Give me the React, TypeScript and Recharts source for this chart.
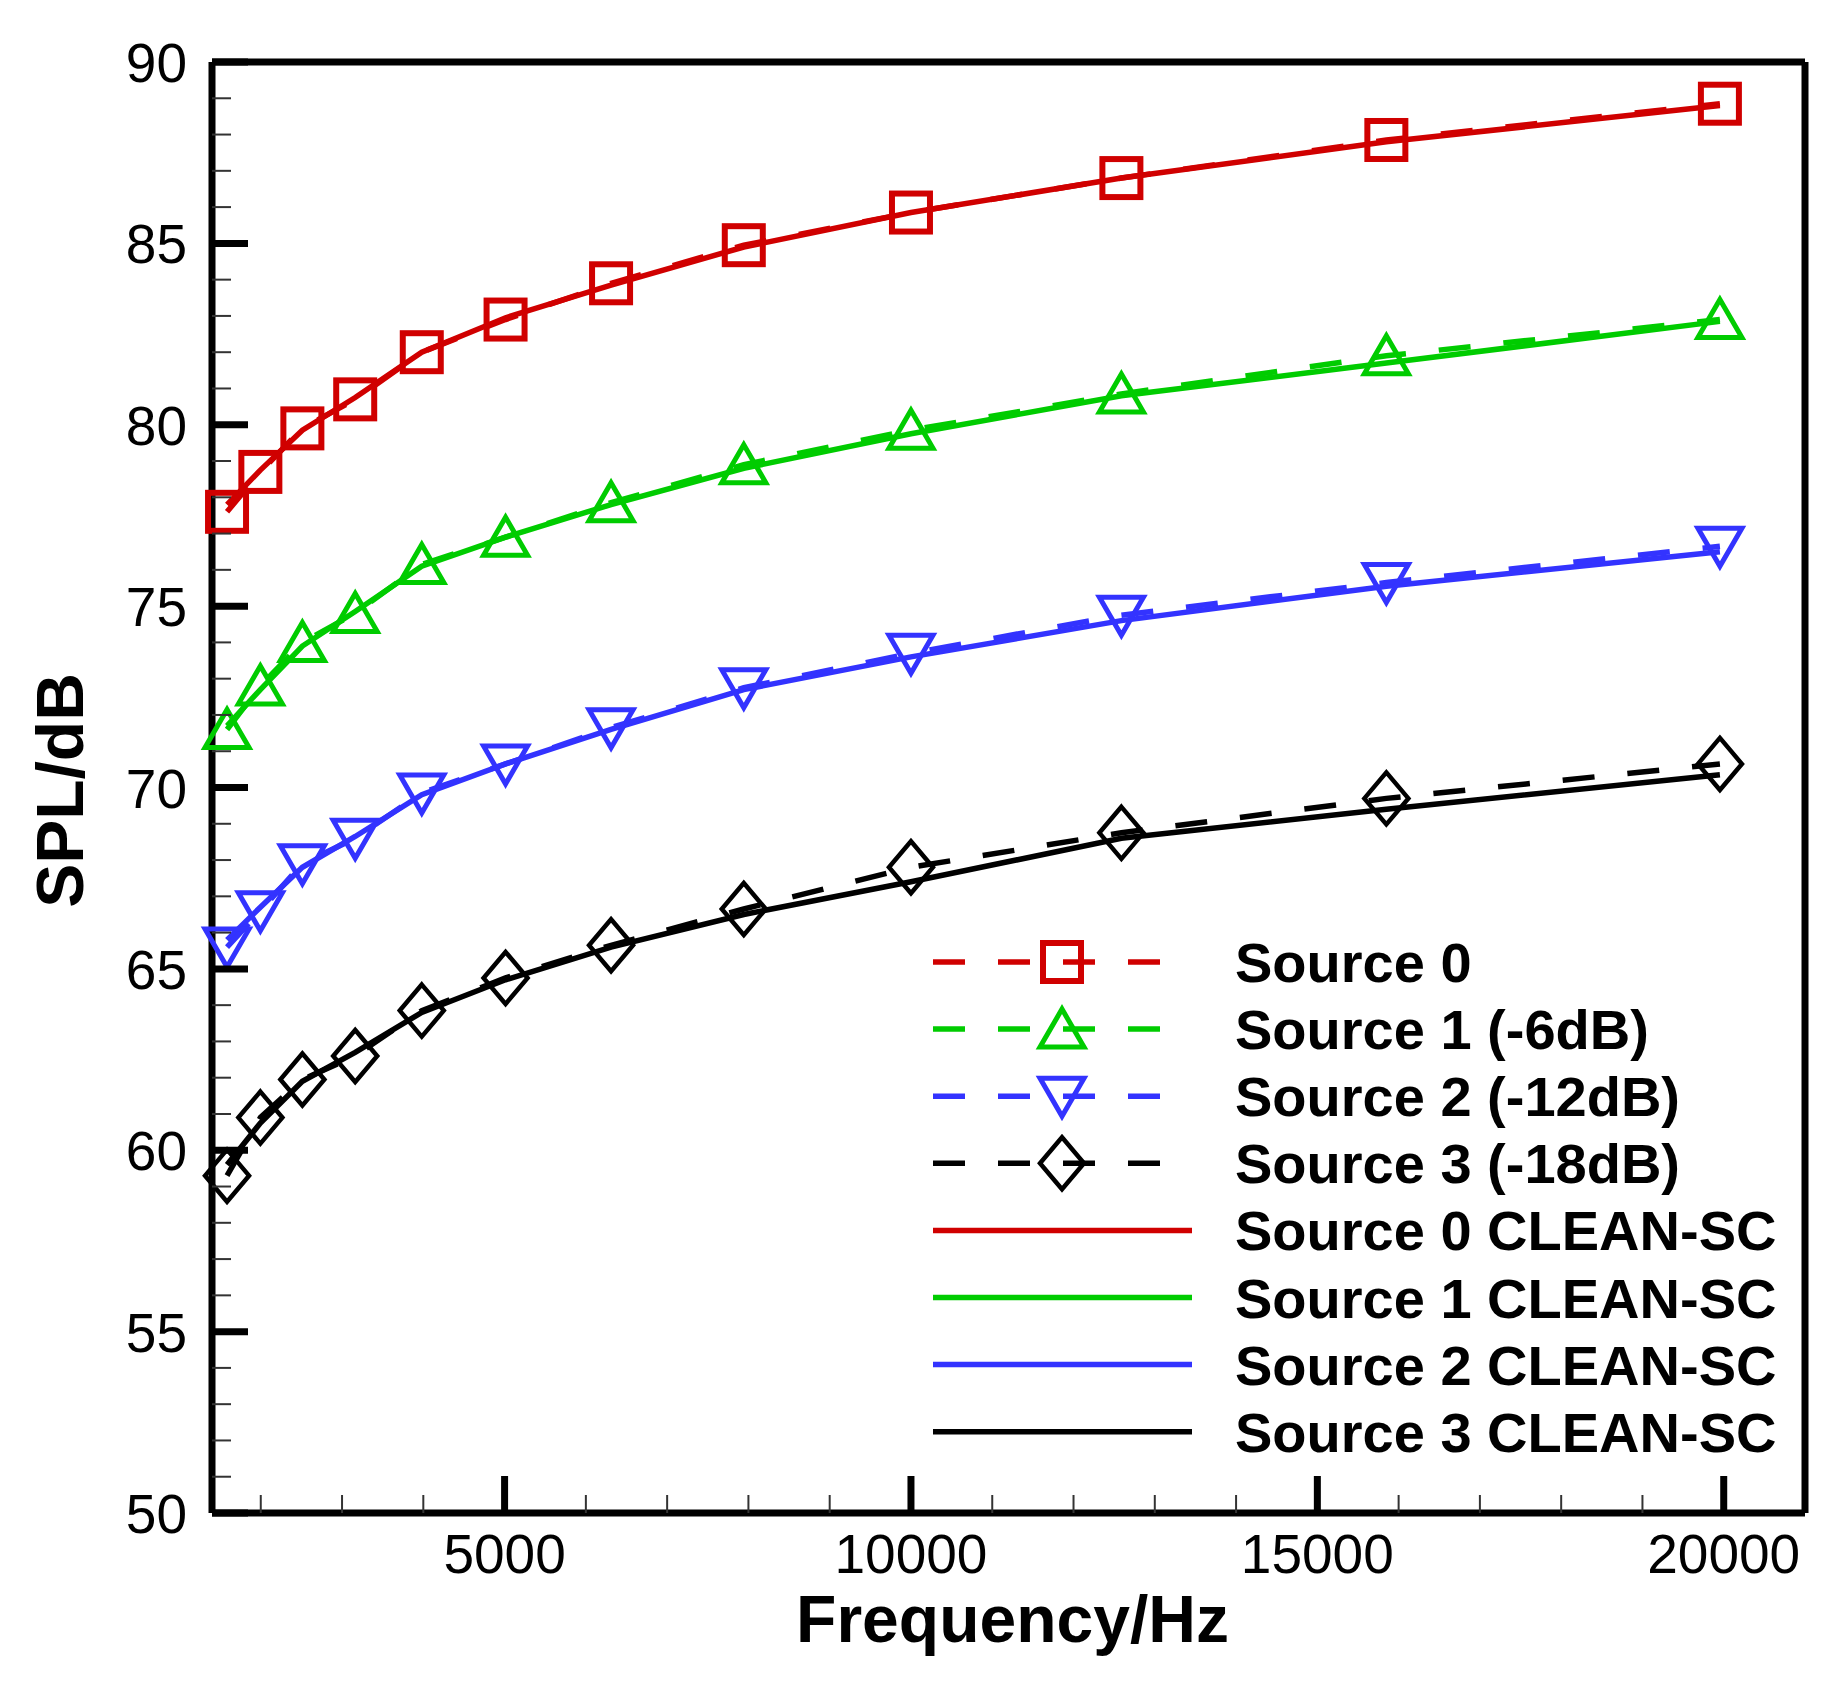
import React from "react";
import { LineChart, Line, XAxis, YAxis, Legend, Label, ReferenceLine } from "recharts";

// third-octave band centres (Hz)
const FREQ = [1585, 1995, 2512, 3162, 3981, 5012, 6310, 7943, 10000, 12589, 15849, 19953];

// reference sources (dashed + symbols)
const SRC0 = [77.6, 78.7, 79.9, 80.7, 82.0, 82.9, 83.9, 84.95, 85.85, 86.8, 87.85, 88.85];
const SRC1 = [71.6, 72.8, 74.0, 74.8, 76.15, 76.9, 77.85, 78.9, 79.85, 80.85, 81.9, 82.9];
const SRC2 = [65.6, 66.6, 67.9, 68.6, 69.85, 70.65, 71.65, 72.75, 73.7, 74.75, 75.65, 76.65];
const SRC3 = [59.3, 60.9, 61.95, 62.6, 63.85, 64.75, 65.65, 66.65, 67.8, 68.75, 69.7, 70.65];

// CLEAN-SC results (solid)
const CLEAN0 = [77.8, 78.75, 79.85, 80.75, 82.0, 82.95, 83.85, 84.9, 85.85, 86.8, 87.8, 88.8];
const CLEAN1 = [71.7, 72.7, 73.9, 74.85, 76.1, 76.9, 77.8, 78.8, 79.75, 80.8, 81.7, 82.85];
const CLEAN2 = [65.8, 66.7, 67.8, 68.65, 69.8, 70.65, 71.6, 72.7, 73.6, 74.6, 75.55, 76.5];
const CLEAN3 = [59.6, 60.75, 61.9, 62.7, 63.8, 64.7, 65.6, 66.5, 67.4, 68.6, 69.4, 70.35];

const X_DOMAIN = [1400, 21000];
const Y_DOMAIN = [50, 90];
const X_TICKS = [2000, 3000, 4000, 5000, 6000, 7000, 8000, 9000, 10000, 11000, 12000, 13000, 14000, 15000, 16000, 17000, 18000, 19000, 20000];
const Y_TICKS = Array.from({ length: 41 }, (_, i) => 50 + i);

const RED = "#D00000";
const GREEN = "#00CC00";
const BLUE = "#3333FF";
const BLACK = "#000000";

const FONT = "'Liberation Sans', Arial, Helvetica, sans-serif";
const DASH = "32 33";
const LINE_W = 5.5;

type Shape = "square" | "triangle" | "invtriangle" | "diamond";

const DASHED = [
  { key: "s0", name: "Source 0", color: RED, shape: "square" as Shape },
  { key: "s1", name: "Source 1 (-6dB)", color: GREEN, shape: "triangle" as Shape },
  { key: "s2", name: "Source 2 (-12dB)", color: BLUE, shape: "invtriangle" as Shape },
  { key: "s3", name: "Source 3 (-18dB)", color: BLACK, shape: "diamond" as Shape },
];
const SOLID = [
  { key: "c0", name: "Source 0 CLEAN-SC", color: RED },
  { key: "c1", name: "Source 1 CLEAN-SC", color: GREEN },
  { key: "c2", name: "Source 2 CLEAN-SC", color: BLUE },
  { key: "c3", name: "Source 3 CLEAN-SC", color: BLACK },
];

const data = FREQ.map((f, i) => ({
  f,
  s0: SRC0[i],
  s1: SRC1[i],
  s2: SRC2[i],
  s3: SRC3[i],
  c0: CLEAN0[i],
  c1: CLEAN1[i],
  c2: CLEAN2[i],
  c3: CLEAN3[i],
}));

function Marker({ cx, cy, shape, color }: { cx: number; cy: number; shape: Shape; color: string }) {
  if (shape === "square") {
    return <rect x={cx - 19} y={cy - 19} width={38} height={38} fill="none" stroke={color} strokeWidth={6} />;
  }
  if (shape === "triangle") {
    const pts = `${cx},${cy - 20} ${cx + 22},${cy + 18} ${cx - 22},${cy + 18}`;
    return <polygon points={pts} fill="none" stroke={color} strokeWidth={5} strokeLinejoin="miter" />;
  }
  if (shape === "invtriangle") {
    const pts = `${cx - 22},${cy - 18} ${cx + 22},${cy - 18} ${cx},${cy + 20}`;
    return <polygon points={pts} fill="none" stroke={color} strokeWidth={5} strokeLinejoin="miter" />;
  }
  const pts = `${cx},${cy - 26} ${cx + 22},${cy} ${cx},${cy + 26} ${cx - 22},${cy}`;
  return <polygon points={pts} fill="none" stroke={color} strokeWidth={4.5} />;
}

function XTick(props: any) {
  const { x, y, payload } = props;
  const major = payload.value % 5000 === 0;
  return (
    <g>
      <line
        x1={x}
        x2={x}
        y1={y}
        y2={y - (major ? 37 : 18)}
        stroke={major ? "#000" : "#333"}
        strokeWidth={major ? 7 : 2}
      />
      {major && (
        <text x={x} y={y + 60} textAnchor="middle" fontSize={55} fontFamily={FONT} fill="#000">
          {payload.value}
        </text>
      )}
    </g>
  );
}

function YTick(props: any) {
  const { x, y, payload } = props;
  const major = payload.value % 5 === 0;
  return (
    <g>
      <line
        x1={x}
        x2={x + (major ? 36 : 19)}
        y1={y}
        y2={y}
        stroke={major ? "#000" : "#333"}
        strokeWidth={major ? 7 : 2}
      />
      {major && (
        <text x={x - 25} y={y + 20} textAnchor="end" fontSize={55} fontFamily={FONT} fill="#000">
          {payload.value}
        </text>
      )}
    </g>
  );
}

// legend box, local coordinates (box placed at 920,920 in the chart)
const LEG_LEFT = 920;
const LEG_TOP = 920;

function renderLegend() {
  const rowY = (i: number) => 42 + i * 67.1;
  return (
    <svg width={900} height={560} style={{ overflow: "visible" }}>
      {DASHED.map((s, i) => (
        <g key={s.key}>
          <line x1={13} x2={242} y1={rowY(i)} y2={rowY(i)} stroke={s.color} strokeWidth={LINE_W} strokeDasharray={DASH} />
          <Marker cx={142} cy={rowY(i)} shape={s.shape} color={s.color} />
          <text x={315} y={rowY(i) + 20} fontSize={56} fontWeight="bold" fontFamily={FONT} fill="#000">
            {s.name}
          </text>
        </g>
      ))}
      {SOLID.map((s, j) => {
        const i = j + DASHED.length;
        return (
          <g key={s.key}>
            <line x1={13} x2={272} y1={rowY(i)} y2={rowY(i)} stroke={s.color} strokeWidth={LINE_W} />
            <text x={315} y={rowY(i) + 20} fontSize={56} fontWeight="bold" fontFamily={FONT} fill="#000">
              {s.name}
            </text>
          </g>
        );
      })}
    </svg>
  );
}

export default function App() {
  return (
    <div style={{ position: "absolute", left: 0, top: 0, width: 1848, height: 1683, background: "#fff" }}>
      <LineChart width={1848} height={1683} data={data} margin={{ top: 62, right: 43, bottom: 70, left: 112 }}>
        <XAxis
          dataKey="f"
          type="number"
          domain={X_DOMAIN}
          ticks={X_TICKS}
          interval={0}
          height={100}
          tickSize={0}
          tickMargin={0}
          tickLine={false}
          tick={<XTick />}
          axisLine={{ stroke: "#000", strokeWidth: 7 }}
        >
          <Label
            content={(p: any) => {
              const vb = p.viewBox;
              return (
                <text
                  x={vb.x + vb.width / 2 + 4}
                  y={vb.y + 129}
                  textAnchor="middle"
                  fontSize={66}
                  fontWeight="bold"
                  fontFamily={FONT}
                  fill="#000"
                >
                  Frequency/Hz
                </text>
              );
            }}
          />
        </XAxis>
        <YAxis
          type="number"
          domain={Y_DOMAIN}
          ticks={Y_TICKS}
          interval={0}
          width={100}
          tickSize={0}
          tickMargin={0}
          tickLine={false}
          tick={<YTick />}
          axisLine={{ stroke: "#000", strokeWidth: 7 }}
        >
          <Label
            content={(p: any) => {
              const vb = p.viewBox;
              const tx = vb.x - 29;
              const ty = vb.y + vb.height / 2 + 3;
              return (
                <text
                  x={tx}
                  y={ty}
                  transform={`rotate(-90, ${tx}, ${ty})`}
                  textAnchor="middle"
                  fontSize={66}
                  fontWeight="bold"
                  fontFamily={FONT}
                  fill="#000"
                >
                  SPL/dB
                </text>
              );
            }}
          />
        </YAxis>
        {/* top and right frame */}
        <ReferenceLine y={Y_DOMAIN[1]} stroke="#000" strokeWidth={7} ifOverflow="visible" />
        <ReferenceLine x={X_DOMAIN[1]} stroke="#000" strokeWidth={7} ifOverflow="visible" />
        {SOLID.map((s) => (
          <Line
            key={s.key}
            dataKey={s.key}
            name={s.name}
            type="linear"
            stroke={s.color}
            strokeWidth={LINE_W}
            dot={false}
            activeDot={false}
            isAnimationActive={false}
          />
        ))}
        {DASHED.map((s) => (
          <Line
            key={s.key}
            dataKey={s.key}
            name={s.name}
            type="linear"
            stroke={s.color}
            strokeWidth={LINE_W}
            strokeDasharray={DASH}
            activeDot={false}
            isAnimationActive={false}
            dot={(p: any) => <Marker key={`${s.key}-${p.index}`} cx={p.cx} cy={p.cy} shape={s.shape} color={s.color} />}
          />
        ))}
        <Legend
          layout="vertical"
          align="center"
          verticalAlign="middle"
          content={renderLegend}
          wrapperStyle={{ position: "absolute", left: LEG_LEFT, top: LEG_TOP, width: 900, height: 560 }}
        />
      </LineChart>
    </div>
  );
}
